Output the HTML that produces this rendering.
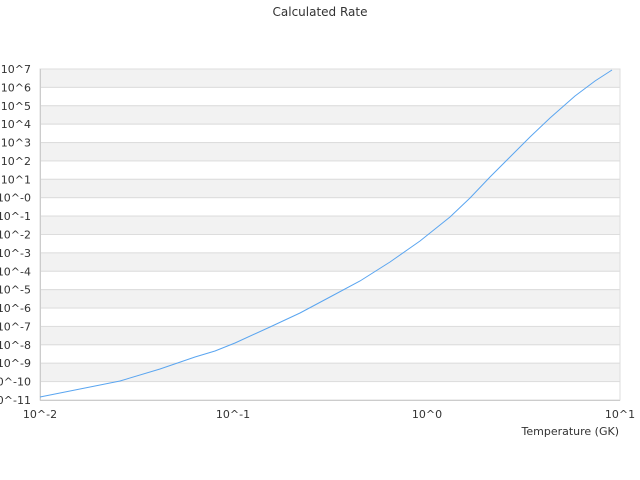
<!DOCTYPE html>
<html><head><style>html,body{margin:0;padding:0;background:#fff}svg{display:block;font-family:"DejaVu Sans","Liberation Sans",sans-serif}</style></head>
<body>
<svg width="640" height="480" xmlns="http://www.w3.org/2000/svg">
<text x="320" y="16" font-size="12" text-anchor="middle" fill="#333">Calculated Rate</text>
<g stroke="#ddd" stroke-width="1">
<rect x="40" y="69" width="580" height="18.39" fill="#f2f2f2"/>
<rect x="40" y="87.39" width="580" height="18.39" fill="#fff"/>
<rect x="40" y="105.78" width="580" height="18.39" fill="#f2f2f2"/>
<rect x="40" y="124.17" width="580" height="18.39" fill="#fff"/>
<rect x="40" y="142.56" width="580" height="18.39" fill="#f2f2f2"/>
<rect x="40" y="160.94" width="580" height="18.39" fill="#fff"/>
<rect x="40" y="179.33" width="580" height="18.39" fill="#f2f2f2"/>
<rect x="40" y="197.72" width="580" height="18.39" fill="#fff"/>
<rect x="40" y="216.11" width="580" height="18.39" fill="#f2f2f2"/>
<rect x="40" y="234.5" width="580" height="18.39" fill="#fff"/>
<rect x="40" y="252.89" width="580" height="18.39" fill="#f2f2f2"/>
<rect x="40" y="271.28" width="580" height="18.39" fill="#fff"/>
<rect x="40" y="289.67" width="580" height="18.39" fill="#f2f2f2"/>
<rect x="40" y="308.06" width="580" height="18.39" fill="#fff"/>
<rect x="40" y="326.44" width="580" height="18.39" fill="#f2f2f2"/>
<rect x="40" y="344.83" width="580" height="18.39" fill="#fff"/>
<rect x="40" y="363.22" width="580" height="18.39" fill="#f2f2f2"/>
<rect x="40" y="381.61" width="580" height="18.39" fill="#fff"/>
</g>
<g font-size="11" fill="#333" text-anchor="end">
<text x="31" y="73">10^7</text>
<text x="31" y="91.4">10^6</text>
<text x="31" y="109.8">10^5</text>
<text x="31" y="128.2">10^4</text>
<text x="31" y="146.6">10^3</text>
<text x="31" y="164.9">10^2</text>
<text x="31" y="183.3">10^1</text>
<text x="31" y="201.7">10^-0</text>
<text x="31" y="220.1">10^-1</text>
<text x="31" y="238.5">10^-2</text>
<text x="31" y="256.9">10^-3</text>
<text x="31" y="275.3">10^-4</text>
<text x="31" y="293.7">10^-5</text>
<text x="31" y="312.1">10^-6</text>
<text x="31" y="330.4">10^-7</text>
<text x="31" y="348.8">10^-8</text>
<text x="31" y="367.2">10^-9</text>
<text x="31" y="385.6">10^-10</text>
<text x="31" y="404">10^-11</text>
</g>
<line x1="40.5" y1="69" x2="40.5" y2="400" stroke="#ccc"/>
<line x1="40" y1="400.5" x2="620" y2="400.5" stroke="#ccc"/>
<g font-size="11" fill="#333" text-anchor="middle">
<text x="40" y="418">10^-2</text>
<text x="233" y="418">10^-1</text>
<text x="427" y="418">10^0</text>
<text x="620" y="418">10^1</text>
</g>
<text x="619" y="435" font-size="11" fill="#333" text-anchor="end">Temperature (GK)</text>
<polyline fill="none" stroke="#5aa5f0" stroke-width="1" points="40,397 80,389 120,381 160,369 195,357 215,351 235,343 270,327 300,313 330,297 360,281 390,262 420,241 450,217 470,198 490,177 510,157 530,137 550,118 575,96 595,81 612,70"/>
</svg>
</body></html>
